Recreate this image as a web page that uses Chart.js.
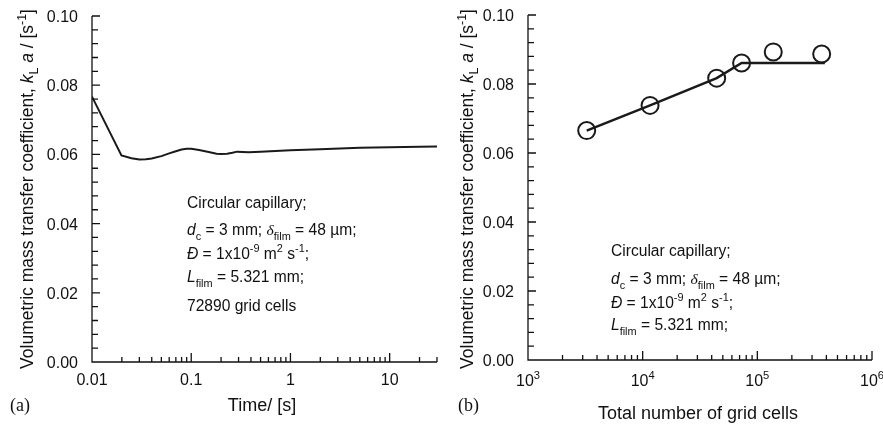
<!DOCTYPE html>
<html>
<head>
<meta charset="utf-8">
<script src="https://cdn.jsdelivr.net/npm/chart.js@4/dist/chart.umd.min.js"></script>
<style>
  body { margin: 0; background: #fff; }
  canvas { position: absolute; top: 0; }
</style>
</head>
<body>
<canvas id="chartA" width="440" height="426" style="left:0"></canvas>
<canvas id="chartB" width="443" height="426" style="left:440px"></canvas>
<script>
// (a) kLa vs time, 72890 grid cells
var timeS   = [0.01, 0.0198, 0.025, 0.03, 0.035, 0.04, 0.05, 0.06, 0.07, 0.08, 0.09, 0.1, 0.12, 0.15, 0.18, 0.2, 0.23, 0.26, 0.29, 0.33, 0.38, 0.5, 1, 2, 5, 10, 20, 30];
var kLaTime = [0.0767, 0.0597, 0.0589, 0.0585, 0.0586, 0.0588, 0.0595, 0.0603, 0.0609, 0.0614, 0.0616, 0.0616, 0.0613, 0.0607, 0.0602, 0.0601, 0.0602, 0.0605, 0.0608, 0.0607, 0.0606, 0.0608, 0.0612, 0.0615, 0.0619, 0.0621, 0.0622, 0.0623];

// (b) kLa vs total number of grid cells
var gridCells = [3250, 11600, 44200, 72890, 137700, 364000];
var kLaGrid   = [0.0665, 0.0738, 0.0817, 0.0861, 0.0893, 0.0887];
var fitCells  = [3250, 11600, 44200, 72890, 388000];
var fitKLa    = [0.0665, 0.0738, 0.0817, 0.0861, 0.0861];

// tick labels
var yTicks = [0, 0.02, 0.04, 0.06, 0.08, 0.10];
var timeTicks = [0.01, 0.1, 1, 10];
var timeTickLabels = ['0.01', '0.1', '1', '10'];
var cellTicks = [1e3, 1e4, 1e5, 1e6];
var cellTickLabels = ['10{^:3}', '10{^:4}', '10{^:5}', '10{^:6}'];

var yTitle = 'Volumetric mass transfer coefficient, {i:k}{_:L} {i:a} / [s{^:-1}]';
var notesA = ['Circular capillary;', '{i:d}{_:c} = 3 mm; {g:δ}{_:film} = 48 µm;', '{i:Đ} = 1x10{^:-9} m{^:2} s{^:-1};', '{i:L}{_:film} = 5.321 mm;', '72890 grid cells'];
var notesB = ['Circular capillary;', '{i:d}{_:c} = 3 mm; {g:δ}{_:film} = 48 µm;', '{i:Đ} = 1x10{^:-9} m{^:2} s{^:-1};', '{i:L}{_:film} = 5.321 mm;'];

var SANS = '"Liberation Sans", Arial, Helvetica, sans-serif';

function parse(str) {
    var out = [], re = /\{([i_^g]):([^}]*)\}/g, last = 0, m;
    while ((m = re.exec(str))) {
        if (m.index > last) out.push({t: str.slice(last, m.index), k: 'n'});
        out.push({t: m[2], k: m[1]});
        last = re.lastIndex;
    }
    if (last < str.length) out.push({t: str.slice(last), k: 'n'});
    return out;
}
function fontFor(k, size) {
    if (k == 'g') return 'italic ' + size + 'px "Liberation Serif", serif';
    if (k == 'i') return 'italic ' + size + 'px ' + SANS;
    if (k == '_' || k == '^') return (size * 0.7).toFixed(1) + 'px ' + SANS;
    return size + 'px ' + SANS;
}
function drawRich(ctx, str, x, y, size, align) {
    var segs = parse(str), w = 0;
    segs.forEach(function(s) { ctx.font = fontFor(s.k, size); w += ctx.measureText(s.t).width; });
    if (align == 'center') x -= w / 2;
    if (align == 'right') x -= w;
    ctx.textAlign = 'left';
    ctx.textBaseline = 'alphabetic';
    segs.forEach(function(s) {
        ctx.font = fontFor(s.k, size);
        var dy = s.k == '_' ? size * 0.3 : (s.k == '^' ? -size * 0.42 : 0);
        ctx.fillText(s.t, x, y + dy);
        x += ctx.measureText(s.t).width;
    });
}

var sciAxes = {
    id: 'sciAxes',
    afterDraw: function(chart, args, o) {
        var ctx = chart.ctx, xs = chart.scales.x, ys = chart.scales.y, a = chart.chartArea;
        ctx.save();
        ctx.strokeStyle = '#111';
        ctx.fillStyle = '#111';
        ctx.lineWidth = 1.3;
        ctx.beginPath();
        ctx.moveTo(a.left, a.top);
        ctx.lineTo(a.left, a.bottom);
        ctx.lineTo(a.right, a.bottom);
        // y ticks, minor every 0.004
        for (var i = 0; i <= 25; i++) {
            var py = ys.getPixelForValue(i * 0.004);
            ctx.moveTo(a.left, py);
            ctx.lineTo(a.left + (i % 5 == 0 ? 8 : 6), py);
        }
        // x ticks on log axis
        for (var d = o.decMin; d <= o.decMax; d++) {
            for (var k = 1; k <= 9; k++) {
                var v = k * Math.pow(10, d);
                if (v < xs.min * 0.999 || v > xs.max * 1.001) continue;
                var px = xs.getPixelForValue(v);
                ctx.moveTo(px, a.bottom);
                ctx.lineTo(px, a.bottom - (k == 1 ? 9 : 5));
            }
        }
        ctx.stroke();

        yTicks.forEach(function(v) {
            drawRich(ctx, v.toFixed(2), a.left - 14, ys.getPixelForValue(v) + 6, 16, 'right');
        });
        o.xTicks.forEach(function(v, i) {
            drawRich(ctx, o.xLabels[i], xs.getPixelForValue(v), o.xLabelY, 16, 'center');
        });
        drawRich(ctx, o.xTitle, o.xTitleX, o.xTitleY, 18, 'center');

        ctx.font = '18px "Liberation Serif", "Times New Roman", serif';
        ctx.fillText(o.tag, o.tagX, 411);

        ctx.save();
        ctx.translate(33, 189);
        ctx.rotate(-Math.PI / 2);
        drawRich(ctx, yTitle, 0, 0, 17.5, 'center');
        ctx.restore();

        o.notes.forEach(function(t, i) {
            drawRich(ctx, t, o.noteX, o.noteY[i], 15.6, 'left');
        });
        ctx.restore();
    }
};

function baseOptions(pad, xMin, xMax, extra) {
    return {
        responsive: false,
        animation: false,
        layout: { padding: pad },
        scales: {
            x: { type: 'logarithmic', min: xMin, max: xMax, display: false },
            y: { type: 'linear', min: 0, max: 0.1, display: false }
        },
        plugins: {
            legend: { display: false },
            tooltip: { enabled: false },
            sciAxes: extra
        }
    };
}

new Chart(document.getElementById('chartA').getContext('2d'), {
    type: 'scatter',
    data: {
        datasets: [{
            data: timeS.map(function(t, i) { return {x: t, y: kLaTime[i]}; }),
            showLine: true,
            borderColor: '#1a1a1a',
            borderWidth: 2,
            pointRadius: 0,
            tension: 0
        }]
    },
    options: baseOptions({left: 92, top: 16, right: 3, bottom: 64}, 0.01, 30, {
        decMin: -2, decMax: 1,
        xTicks: timeTicks, xLabels: timeTickLabels, xLabelY: 385,
        xTitle: 'Time/ [s]', xTitleX: 262, xTitleY: 411,
        tag: '(a)', tagX: 10,
        notes: notesA, noteX: 187, noteY: [208, 235, 259, 282, 311]
    }),
    plugins: [sciAxes]
});

new Chart(document.getElementById('chartB').getContext('2d'), {
    type: 'scatter',
    data: {
        datasets: [{
            data: fitCells.map(function(c, i) { return {x: c, y: fitKLa[i]}; }),
            showLine: true,
            borderColor: '#1a1a1a',
            borderWidth: 2.5,
            pointRadius: 0,
            tension: 0
        }, {
            data: gridCells.map(function(c, i) { return {x: c, y: kLaGrid[i]}; }),
            showLine: false,
            pointRadius: 8.5,
            pointBackgroundColor: '#fff',
            pointBorderColor: '#1a1a1a',
            pointBorderWidth: 2
        }]
    },
    options: baseOptions({left: 88, top: 15, right: 11, bottom: 66}, 1e3, 1e6, {
        decMin: 3, decMax: 6,
        xTicks: cellTicks, xLabels: cellTickLabels, xLabelY: 386,
        xTitle: 'Total number of grid cells', xTitleX: 258, xTitleY: 419,
        tag: '(b)', tagX: 18,
        notes: notesB, noteX: 171, noteY: [256, 284, 308, 330]
    }),
    plugins: [sciAxes]
});
</script>
</body>
</html>
